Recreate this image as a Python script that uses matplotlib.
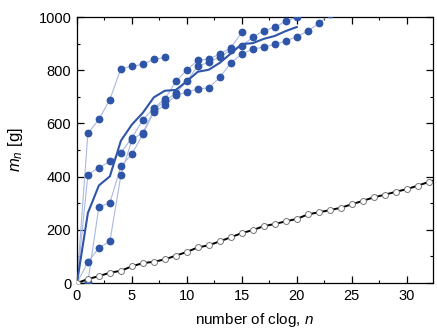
import numpy as np
import matplotlib
matplotlib.use('Agg')
import matplotlib.pyplot as plt
from matplotlib.ticker import MultipleLocator

plt.rcParams['font.family'] = 'Liberation Sans'
plt.rcParams['mathtext.fontset'] = 'custom'
plt.rcParams['mathtext.rm'] = 'Liberation Sans'
plt.rcParams['mathtext.it'] = 'Liberation Sans:italic'

# масса сгустков по номеру n, отдельные опыты
n_a = list(range(0, 9))
m_a = [0, 563, 615, 690, 806, 815, 822, 841, 848]

n_b = list(range(0, 16))
m_b = [0, 408, 434, 457, 489, 546, 613, 659, 691, 759, 801, 837, 842, 861, 885, 942]

n_c = list(range(0, 21))
m_c = [0, 79, 132, 157, 405, 538, 566, 650, 685, 713, 759, 816, 830, 850, 876,
       892, 924, 949, 961, 985, 999]

n_d = list(range(0, 24))
m_d = [0, 5, 287, 301, 440, 484, 560, 643, 668, 706, 717, 730, 734, 773, 828,
       861, 880, 887, 897, 910, 926, 947, 976, 1010]

# модель (открытые кружки)
n_mod = list(range(0, 34))
m_mod = [0, 15, 26, 39, 46, 63, 75, 80, 89, 103, 117, 134, 142, 157, 172, 188,
         199, 214, 222, 232, 241, 258, 266, 274, 283, 296, 309, 322, 332, 343,
         353, 366, 380, 392]

runs = [(n_a, m_a), (n_b, m_b), (n_c, m_c), (n_d, m_d)]

# среднее по доступным опытам, до n = 20
n_mean = list(range(0, 21))
m_mean = []
for k in n_mean:
    vals = [m[k] for n, m in runs if k < len(m)]
    m_mean.append(np.mean(vals))

fig = plt.figure(figsize=(4.37, 3.28), dpi=100)
ax = fig.add_axes([0.176, 0.137, 0.815, 0.811])

blue = '#2f55a8'
for n, m in runs:
    ax.plot(n, m, '-', color='#a9b9e2', lw=0.8, zorder=2)
    ax.plot(n[1:], m[1:], 'o', color=blue, ms=4.6, mec=blue, zorder=3)

ax.plot(n_mean, m_mean, '-', color=blue, lw=1.5, zorder=4)

ax.plot(n_mod, m_mod, '-', color='black', lw=1.4, zorder=5)
ax.plot(n_mod, m_mod, 'o', mfc='white', mec='#777777', mew=0.7, ms=4.3, zorder=6)

ax.set_xlim(0, 32.4)
ax.set_ylim(0, 1000)
ax.xaxis.set_major_locator(MultipleLocator(5))
ax.xaxis.set_minor_locator(MultipleLocator(2.5))
ax.yaxis.set_major_locator(MultipleLocator(200))
ax.yaxis.set_minor_locator(MultipleLocator(100))
ax.tick_params(which='both', direction='in', top=True, right=True, labelsize=10.5)
ax.tick_params(which='major', length=5, width=0.9, pad=4)
ax.tick_params(which='minor', length=2.5, width=0.8)
for s in ax.spines.values():
    s.set_linewidth(0.9)

ax.set_xlabel('number of clog, $n$', fontsize=11, labelpad=6)
ax.set_ylabel('$m_n$ [g]', fontsize=12, labelpad=10)

fig.savefig('out.png', dpi=100)
